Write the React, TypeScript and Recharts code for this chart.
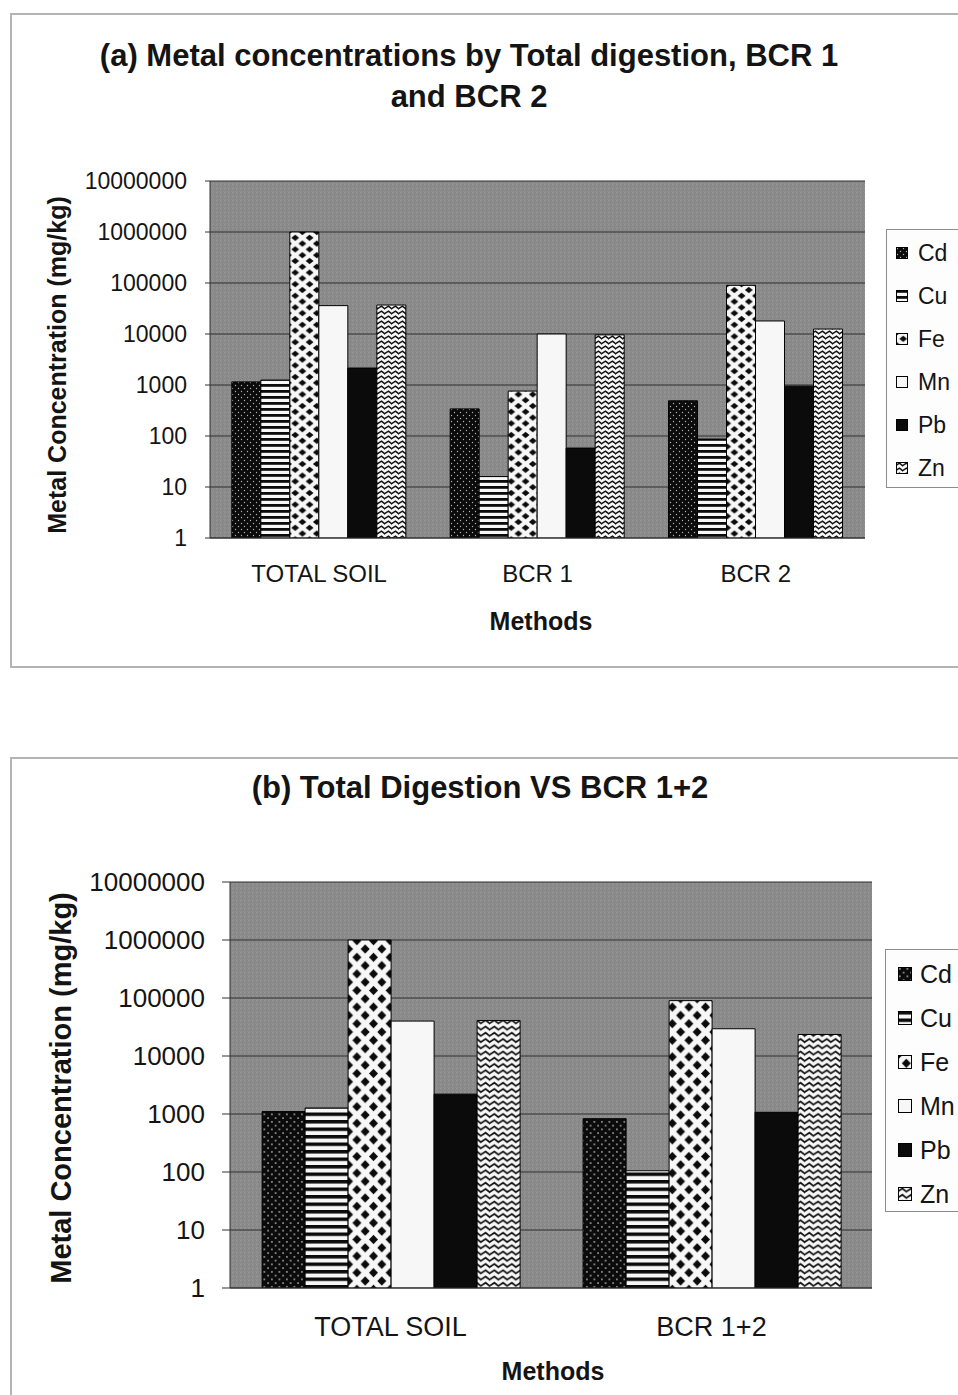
import React from 'react';
import { BarChart, Bar, XAxis, YAxis, CartesianGrid } from 'recharts';

const FONT = "'Liberation Sans', Arial, Helvetica, sans-serif";

const metals = ['Cd', 'Cu', 'Fe', 'Mn', 'Pb', 'Zn'];
const yTicks = [1, 10, 100, 1000, 10000, 100000, 1000000, 10000000];

// (a) Total digestion, BCR 1, BCR 2
const methodsA = ['TOTAL SOIL', 'BCR 1', 'BCR 2'];
const cdA = [1150, 340, 490];
const cuA = [1250, 16, 87];
const feA = [1000000, 760, 90000];
const mnA = [36000, 10000, 18000];
const pbA = [2150, 58, 950];
const znA = [37000, 9600, 12500];

// (b) Total digestion vs BCR 1+2
const methodsB = ['TOTAL SOIL', 'BCR 1+2'];
const cdB = [1100, 830];
const cuB = [1270, 105];
const feB = [1000000, 90000];
const mnB = [40000, 29500];
const pbB = [2200, 1070];
const znB = [41000, 23500];

const buildRows = (methods: string[], series: number[][]) =>
  methods.map((m, i) => {
    const row: any = { method: m };
    metals.forEach((k, j) => {
      row[k] = series[j][i];
    });
    return row;
  });

const rowsA = buildRows(methodsA, [cdA, cuA, feA, mnA, pbA, znA]);
const rowsB = buildRows(methodsB, [cdB, cuB, feB, mnB, pbB, znB]);

function diamond(cx: number, cy: number, hw: number, hh: number) {
  return `${cx},${cy - hh} ${cx + hw},${cy} ${cx},${cy + hh} ${cx - hw},${cy}`;
}

function Patterns({ id, s, fw, fh }: { id: string; s: number; fw: number; fh: number }) {
  const hw = fw * 0.27;
  const hh = fh * 0.28;
  return (
    <>
      <pattern id={`bg-${id}`} patternUnits="userSpaceOnUse" width={4} height={4}>
        <rect width={4} height={4} fill="#8b8b8b" />
        <rect x={0} y={0} width={1} height={1} fill="#989898" />
        <rect x={2} y={2} width={1} height={1} fill="#7e7e7e" />
        <rect x={3} y={0} width={1} height={1} fill="#848484" />
        <rect x={1} y={3} width={1} height={1} fill="#949494" />
      </pattern>
      <pattern id={`Cd-${id}`} patternUnits="userSpaceOnUse" width={6 * s} height={6 * s}>
        <rect width={6 * s} height={6 * s} fill="#0b0b0b" />
        <circle cx={1.5 * s} cy={1.5 * s} r={0.7 * s} fill="#b0b0b0" />
        <circle cx={4.5 * s} cy={4.5 * s} r={0.7 * s} fill="#b0b0b0" />
      </pattern>
      <pattern id={`Cu-${id}`} patternUnits="userSpaceOnUse" width={6 * s} height={6 * s}>
        <rect width={6 * s} height={6 * s} fill="#f7f7f7" />
        <rect x={0} y={0} width={6 * s} height={2.8 * s} fill="#0b0b0b" />
      </pattern>
      <pattern id={`Fe-${id}`} patternUnits="userSpaceOnUse" width={fw} height={fh}>
        <rect width={fw} height={fh} fill="#f7f7f7" />
        <polygon points={diamond(fw / 2, fh / 2, hw, hh)} fill="#0b0b0b" />
        <polygon points={diamond(0, 0, hw, hh)} fill="#0b0b0b" />
        <polygon points={diamond(fw, 0, hw, hh)} fill="#0b0b0b" />
        <polygon points={diamond(0, fh, hw, hh)} fill="#0b0b0b" />
        <polygon points={diamond(fw, fh, hw, hh)} fill="#0b0b0b" />
      </pattern>
      <pattern id={`Mn-${id}`} patternUnits="userSpaceOnUse" width={4} height={4}>
        <rect width={4} height={4} fill="#f7f7f7" />
      </pattern>
      <pattern id={`Pb-${id}`} patternUnits="userSpaceOnUse" width={4} height={4}>
        <rect width={4} height={4} fill="#0b0b0b" />
      </pattern>
      <pattern id={`Zn-${id}`} patternUnits="userSpaceOnUse" width={7 * s} height={5 * s}>
        <rect width={7 * s} height={5 * s} fill="#f7f7f7" />
        <polyline
          points={`-1,${4.0 * s} ${3.5 * s},${1.2 * s} ${7 * s + 1},${4.0 * s + 0.8}`}
          fill="none"
          stroke="#111"
          strokeWidth={1.4 * s}
        />
      </pattern>
    </>
  );
}

function MetalChart(props: {
  rows: any[];
  id: string;
  width: number;
  height: number;
  margin: { top: number; right: number; bottom: number; left: number };
  yAxisWidth: number;
  yFont: number;
  xFont: number;
  yTickSize: number;
  yTickMargin: number;
  xTickMargin: number;
}) {
  const { rows, id, width, height, margin, yAxisWidth, yFont, xFont, yTickSize, yTickMargin, xTickMargin } = props;
  const n = rows.length;
  const boundaryTicks = Array.from({ length: n + 1 }, (_, i) => i);
  return (
    <BarChart width={width} height={height} data={rows} margin={margin} barCategoryGap="10%" barGap={0}>
      <CartesianGrid vertical={false} stroke="#2e2e2e" strokeWidth={1} fill={`url(#bg-${id})`} fillOpacity={1} />
      <XAxis
        dataKey="method"
        tickLine={false}
        tickSize={0}
        tickMargin={xTickMargin}
        height={100}
        interval={0}
        axisLine={{ stroke: '#333' }}
        tick={{ fontSize: xFont, fill: '#141414', fontFamily: FONT }}
      />
      <XAxis
        xAxisId="bounds"
        type="number"
        domain={[0, n]}
        ticks={boundaryTicks}
        allowDataOverflow
        interval={0}
        height={0}
        tick={false}
        tickSize={6}
        axisLine={false}
        tickLine={{ stroke: '#333' }}
      />
      <YAxis
        type="number"
        scale="log"
        domain={[1, 10000000]}
        ticks={yTicks}
        allowDataOverflow
        interval={0}
        width={yAxisWidth}
        tickSize={yTickSize}
        tickMargin={yTickMargin}
        tickFormatter={(v: number) => String(Math.round(v))}
        tick={{ fontSize: yFont, fill: '#141414', fontFamily: FONT }}
        tickLine={{ stroke: '#333' }}
        axisLine={{ stroke: '#333' }}
      />
      <YAxis yAxisId="r" orientation="right" width={0} tick={false} tickLine={false} axisLine={{ stroke: '#555' }} />
      {metals.map((k) => (
        <Bar key={k} dataKey={k} fill={`url(#${k}-${id})`} stroke="#000" strokeWidth={1} isAnimationActive={false} />
      ))}
    </BarChart>
  );
}

function LegendBox(props: {
  id: string;
  left: number;
  top: number;
  height: number;
  firstY: number;
  step: number;
  font: number;
  sw: number;
  swLeft: number;
  textLeft: number;
}) {
  const { id, left, top, height, firstY, step, font, sw, swLeft, textLeft } = props;
  return (
    <div
      style={{
        position: 'absolute',
        left,
        top,
        width: 120,
        height,
        border: '1px solid #8c8c8c',
        background: '#fdfdfd',
        boxSizing: 'border-box',
      }}
    >
      {metals.map((k, i) => {
        const cy = firstY + step * i - top;
        return (
          <React.Fragment key={k}>
            <svg
              width={sw}
              height={sw}
              style={{ position: 'absolute', left: swLeft - left, top: cy - sw / 2 }}
            >
              <rect x={0.5} y={0.5} width={sw - 1} height={sw - 1} fill={`url(#${k}-${id})`} stroke="#000" strokeWidth={1} />
            </svg>
            <div
              style={{
                position: 'absolute',
                left: textLeft - left,
                top: cy - 15,
                height: 30,
                lineHeight: '30px',
                fontSize: font,
                fontFamily: FONT,
                color: '#141414',
                whiteSpace: 'nowrap',
              }}
            >
              {k}
            </div>
          </React.Fragment>
        );
      })}
    </div>
  );
}

function Centered(props: { cx: number; cy: number; size: number; text: string; bold?: boolean; rotate?: boolean }) {
  const { cx, cy, size, text, bold, rotate } = props;
  return (
    <div
      style={{
        position: 'absolute',
        left: cx,
        top: cy,
        transform: `translate(-50%, -50%)${rotate ? ' rotate(-90deg)' : ''}`,
        fontSize: size,
        fontWeight: bold ? 700 : 400,
        fontFamily: FONT,
        color: '#141414',
        whiteSpace: 'nowrap',
        lineHeight: `${Math.round(size * 1.3)}px`,
      }}
    >
      {text}
    </div>
  );
}

export default function App() {
  return (
    <div style={{ position: 'absolute', left: 0, top: 0, width: 958, height: 1395, overflow: 'hidden', background: '#fff' }}>
      <svg width={0} height={0} style={{ position: 'absolute' }}>
        <defs>
          <Patterns id="a" s={1} fw={14.4} fh={11.6} />
          <Patterns id="b" s={1.25} fw={16.6} fh={16.6} />
        </defs>
      </svg>

      {/* frame (a) */}
      <div style={{ position: 'absolute', left: 10, top: 13, width: 1000, height: 655, border: '2px solid #b4b4b4', boxSizing: 'border-box' }} />
      {/* frame (b) */}
      <div style={{ position: 'absolute', left: 10, top: 757, width: 1000, height: 700, border: '2px solid #b4b4b4', boxSizing: 'border-box' }} />

      <Centered cx={469} cy={56} size={31} bold text="(a) Metal concentrations by Total digestion, BCR 1" />
      <Centered cx={469} cy={97} size={31} bold text="and BCR 2" />

      <div style={{ position: 'absolute', left: 0, top: 0 }}>
        <MetalChart
          rows={rowsA}
          id="a"
          width={958}
          height={680}
          margin={{ top: 181, right: 93, bottom: 42, left: 80 }}
          yAxisWidth={130}
          yFont={23}
          xFont={24}
          yTickSize={5}
          yTickMargin={18}
          xTickMargin={27}
        />
      </div>
      <Centered cx={57} cy={365} size={25} bold rotate text="Metal Concentration (mg/kg)" />
      <Centered cx={541} cy={621} size={25} bold text="Methods" />
      <LegendBox id="a" left={886} top={229} height={259} firstY={252} step={43} font={23} sw={12} swLeft={895} textLeft={917} />

      <Centered cx={480} cy={788} size={31} bold text="(b) Total Digestion VS BCR 1+2" />
      <div style={{ position: 'absolute', left: 0, top: 700 }}>
        <MetalChart
          rows={rowsB}
          id="b"
          width={958}
          height={695}
          margin={{ top: 182, right: 86, bottom: 7, left: 90 }}
          yAxisWidth={140}
          yFont={26}
          xFont={27}
          yTickSize={8}
          yTickMargin={17}
          xTickMargin={29}
        />
      </div>
      <Centered cx={61} cy={1088} size={29} bold rotate text="Metal Concentration (mg/kg)" />
      <Centered cx={553} cy={1371} size={25} bold text="Methods" />
      <LegendBox id="b" left={885} top={949} height={263} firstY={973} step={44} font={25} sw={14} swLeft={897} textLeft={919} />
    </div>
  );
}
